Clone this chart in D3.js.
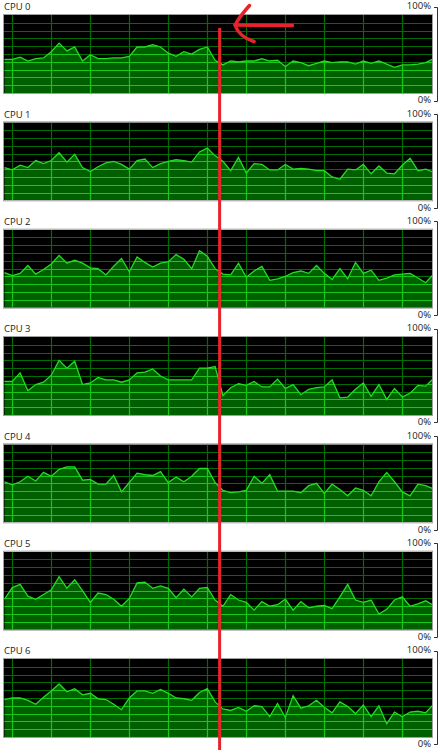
<!DOCTYPE html>
<html>
<head>
<meta charset="utf-8">
<script src="https://cdn.jsdelivr.net/npm/d3@7"></script>
<style>
  html, body { margin: 0; padding: 0; background: #ffffff; }
  svg { display: block; }
  text { font-family: "Open Sans", "Noto Sans", sans-serif; fill: #222; }
</style>
</head>
<body>
<svg id="chart" width="442" height="750"></svg>
<script>
// ---- data ----
const cpuLabels = ["CPU 0", "CPU 1", "CPU 2", "CPU 3", "CPU 4", "CPU 5", "CPU 6"];
const tickLabels = ["0%", "100%"];

const cpu0 = [43,43,46,41,44,45,53,64,54,59,41,49,44,44,45,45,47,59,59,62,59,51,47,53,50,56,59,42,
              36,41,40,41,41,44,41,42,34,41,39,35,38,41,39,40,40,37,41,38,41,37,33,36,36,37,39,44];
const cpu1 = [42,39,45,42,51,47,51,61,49,59,42,37,43,48,50,46,40,51,53,42,47,50,52,51,49,62,67,57,
              50,38,55,35,47,46,39,39,46,40,41,40,38,38,30,27,40,39,46,34,44,35,34,45,54,38,40,36];
const cpu2 = [45,41,44,54,43,49,56,67,57,61,57,51,50,42,53,63,46,65,58,52,57,59,68,62,50,73,66,50,
              43,42,57,39,47,53,35,37,40,45,47,44,54,44,36,50,37,58,44,48,35,38,42,43,44,38,32,43];
const cpu3 = [43,43,54,31,39,42,51,70,60,69,39,41,48,45,45,42,45,54,55,59,50,45,45,45,45,60,60,62,
              25,35,40,38,43,36,36,46,34,39,26,33,35,36,45,22,23,33,41,24,39,20,34,23,28,38,37,47];
const cpu4 = [52,48,52,59,53,64,59,68,71,71,54,55,49,49,60,39,51,63,61,60,65,51,58,52,59,69,69,51,
              41,38,39,41,59,50,61,40,40,40,38,47,50,37,49,42,34,44,41,34,52,64,52,39,34,49,47,43];
const cpu5 = [39,54,58,43,39,45,51,68,53,64,50,35,47,45,39,30,40,60,61,53,56,53,41,52,42,53,54,38,
              30,45,38,35,25,36,30,32,39,25,36,28,30,31,27,42,58,38,35,38,20,26,38,42,30,33,37,31];
const cpu6 = [48,50,50,47,42,51,59,68,58,62,54,56,49,48,42,35,50,59,59,56,61,56,50,49,47,57,62,45,
              36,34,38,33,40,39,26,43,25,53,37,40,47,38,31,45,39,30,41,26,40,17,32,26,32,33,31,42];
const series = [cpu0, cpu1, cpu2, cpu3, cpu4, cpu5, cpu6];

// ---- layout ----
const firstTop = 15, step = 107.33, plotH = 78;
const plotX0 = 4, plotX1 = 432;
const nPts = cpu0.length;

const svg = d3.select("#chart");
const x = d3.scaleLinear().domain([0, nPts - 1]).range([4.5, 433.5]);
const vGrid = d3.range(1, nPts, 5);

const colBg = "#000000";
const colGridDark = "#006e00";
const colFill = "#006000";
const colGridBright = "#18c818";
const colLine = "#22dd22";

series.forEach((vals, p) => {
  const top = firstTop + p * step;
  const bottom = top + plotH;
  const y = d3.scaleLinear().domain([0, 100]).range([bottom, top]);
  const g = svg.append("g");

  const clipId = "clip" + p;
  g.append("clipPath").attr("id", clipId)
    .append("rect").attr("x", plotX0).attr("y", top).attr("width", plotX1 - plotX0).attr("height", plotH);

  const area = d3.area().x((d, i) => x(i)).y0(y(0)).y1(d => y(d));
  const line = d3.line().x((d, i) => x(i)).y(d => y(d));

  const inner = g.append("g").attr("clip-path", `url(#${clipId})`);
  inner.append("rect").attr("x", plotX0).attr("y", top).attr("width", plotX1 - plotX0).attr("height", plotH).attr("fill", colBg);

  const hTicks = d3.range(10, 100, 10);
  const drawGrid = (sel, col) => {
    sel.selectAll("line.h").data(hTicks).join("line").attr("class", "h")
      .attr("x1", plotX0).attr("x2", plotX1)
      .attr("y1", d => Math.round(y(d)) + 0.5).attr("y2", d => Math.round(y(d)) + 0.5)
      .attr("stroke", col).attr("stroke-width", 1.2);
    sel.selectAll("line.v").data(vGrid).join("line").attr("class", "v")
      .attr("x1", d => Math.round(x(d)) + 0.5).attr("x2", d => Math.round(x(d)) + 0.5)
      .attr("y1", top).attr("y2", bottom)
      .attr("stroke", col).attr("stroke-width", 1.2);
  };
  drawGrid(inner.append("g"), colGridDark);

  inner.append("path").datum(vals).attr("d", area).attr("fill", colFill);

  const areaClipId = "aclip" + p;
  g.append("clipPath").attr("id", areaClipId).append("path").datum(vals).attr("d", area);
  drawGrid(inner.append("g").attr("clip-path", `url(#${areaClipId})`), colGridBright);

  inner.append("path").datum(vals).attr("d", line)
    .attr("fill", "none").attr("stroke", colLine).attr("stroke-width", 1.3);

  // frame
  g.append("rect").attr("x", plotX0 - 0.5).attr("y", top - 0.5)
    .attr("width", plotX1 - plotX0 + 1).attr("height", plotH + 1)
    .attr("fill", "none").attr("stroke", "#a0a0a0").attr("stroke-width", 1);

  // labels
  g.append("text").attr("x", 4).attr("y", top - 4.7).attr("font-size", "9.5px").text(cpuLabels[p]);
  g.append("text").attr("x", 431).attr("y", top - 5.6).attr("text-anchor", "end").attr("font-size", "9.5px").text(tickLabels[1]);
  g.append("text").attr("x", 431).attr("y", bottom + 10.3).attr("text-anchor", "end").attr("font-size", "9.5px").text(tickLabels[0]);

  // bracket
  const bt = Math.round(top - 8.3) + 0.5, bb = Math.round(bottom + 7.5) + 0.5;
  g.append("path").attr("d", `M434,${bt}H437.5V${bb}H434`)
    .attr("fill", "none").attr("stroke", "#333").attr("stroke-width", 1);
});

// red annotation
const red = "#e8232b";
svg.append("line").attr("x1", 219.6).attr("x2", 219.6).attr("y1", 28).attr("y2", 750)
  .attr("stroke", red).attr("stroke-width", 3);
svg.append("path").attr("d", "M292.5,25.5 L235,25")
  .attr("fill", "none").attr("stroke", red).attr("stroke-width", 3.5).attr("stroke-linecap", "round");
svg.append("path").attr("d", "M249.5,5.5 Q240,16 235,25 Q239,37 254,41.5")
  .attr("fill", "none").attr("stroke", red).attr("stroke-width", 3.5)
  .attr("stroke-linecap", "round").attr("stroke-linejoin", "round");
</script>
</body>
</html>
